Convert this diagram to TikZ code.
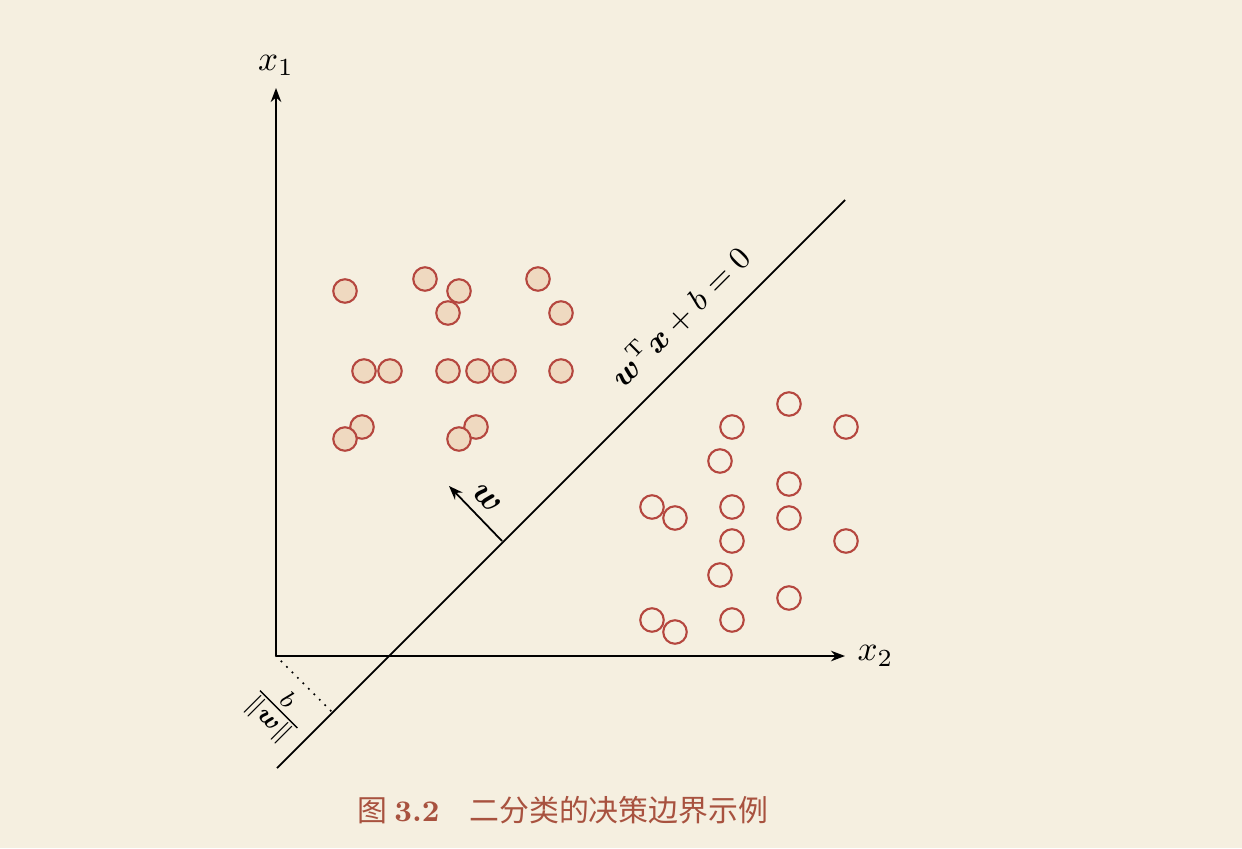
\documentclass[tikz,border=0pt]{standalone}
\usepackage{amsmath,amssymb}
\usepackage{fontspec}
\newfontfamily\cjk{Noto Sans CJK SC}
\usepackage{tikz}
\usetikzlibrary{arrows.meta,calc,positioning}

\definecolor{paper}{HTML}{F5EFE0}
\definecolor{dotred}{HTML}{B5473F}
\definecolor{dotfill}{HTML}{EFD9C0}
\definecolor{captred}{HTML}{A8523F}

\tikzset{
  pospt/.style={circle, draw=dotred, fill=dotfill, line width=0.6pt,
    minimum size=0.235cm, inner sep=0pt},
  negpt/.style={circle, draw=dotred, line width=0.6pt,
    minimum size=0.235cm, inner sep=0pt},
}

\begin{document}
\begin{tikzpicture}[>={Stealth[length=4pt,width=3pt,inset=1.3pt]}, line width=0.5pt]
  \fill[paper] (0,0) rectangle (12.42,8.48);
  \useasboundingbox (0,0) rectangle (12.42,8.48);

  % axes
  \coordinate (O) at (2.76,1.92);
  \coordinate (X) at (8.45,1.92);
  \coordinate (Y) at (2.76,7.60);
  \draw[->] (O) -- (X) node[right=0pt] (xtwo) {$x_2$};
  \draw[->] (O) -- (Y) node[above=0pt] (xone) {$x_1$};

  % decision boundary
  \coordinate (L1) at (2.77,0.80);
  \coordinate (L2) at (8.45,6.48);
  \draw (L1) -- (L2);
  \node[rotate=45, font=\fontsize{9}{11}\selectfont] (eq) at (6.79,5.32)
    {$\boldsymbol{w}^{\mathrm{T}}\boldsymbol{x}+b=0$};

  % normal vector
  \coordinate (W0) at (5.02,3.07);
  \coordinate (W1) at (4.49,3.62);
  \draw[->] (W0) -- (W1);
  \node[rotate=-45] (wlab) at (4.87,3.49) {$\boldsymbol{w}$};

  % distance from origin
  \coordinate (F) at (3.325,1.355);
  \draw[line width=0.7pt, line cap=round, dash pattern=on 0pt off 2.2pt] (O) -- (F);
  \node[rotate=-45, inner sep=0pt] (dist) at (2.77,1.37) {$\frac{b}{\|\boldsymbol{w}\|}$};

  % class +1
  \foreach \x/\y [count=\i] in {3.45/5.57, 4.25/5.69, 4.59/5.57, 4.48/5.35,
      5.38/5.69, 5.61/5.35, 3.64/4.77, 3.90/4.77, 4.48/4.77, 4.78/4.77,
      5.04/4.77, 5.61/4.77, 3.62/4.21, 3.45/4.09, 4.76/4.21, 4.59/4.09}
    \node[pospt] (p\i) at (\x,\y) {};

  % class -1
  \foreach \x/\y [count=\i] in {7.89/4.44, 7.32/4.21, 8.46/4.21, 7.20/3.87,
      7.89/3.64, 6.52/3.41, 6.75/3.30, 7.32/3.41, 7.89/3.30, 7.32/3.07,
      8.46/3.07, 7.20/2.73, 7.89/2.50, 6.52/2.28, 6.75/2.16, 7.32/2.28}
    \node[negpt] (n\i) at (\x,\y) {};

  \node[text=captred] (cap) at (5.63,0.38)
    {\fontsize{8.5}{10}\selectfont\cjk 图 {\rmfamily\bfseries 3.2}\quad 二分类的决策边界示例};
\end{tikzpicture}
\end{document}
